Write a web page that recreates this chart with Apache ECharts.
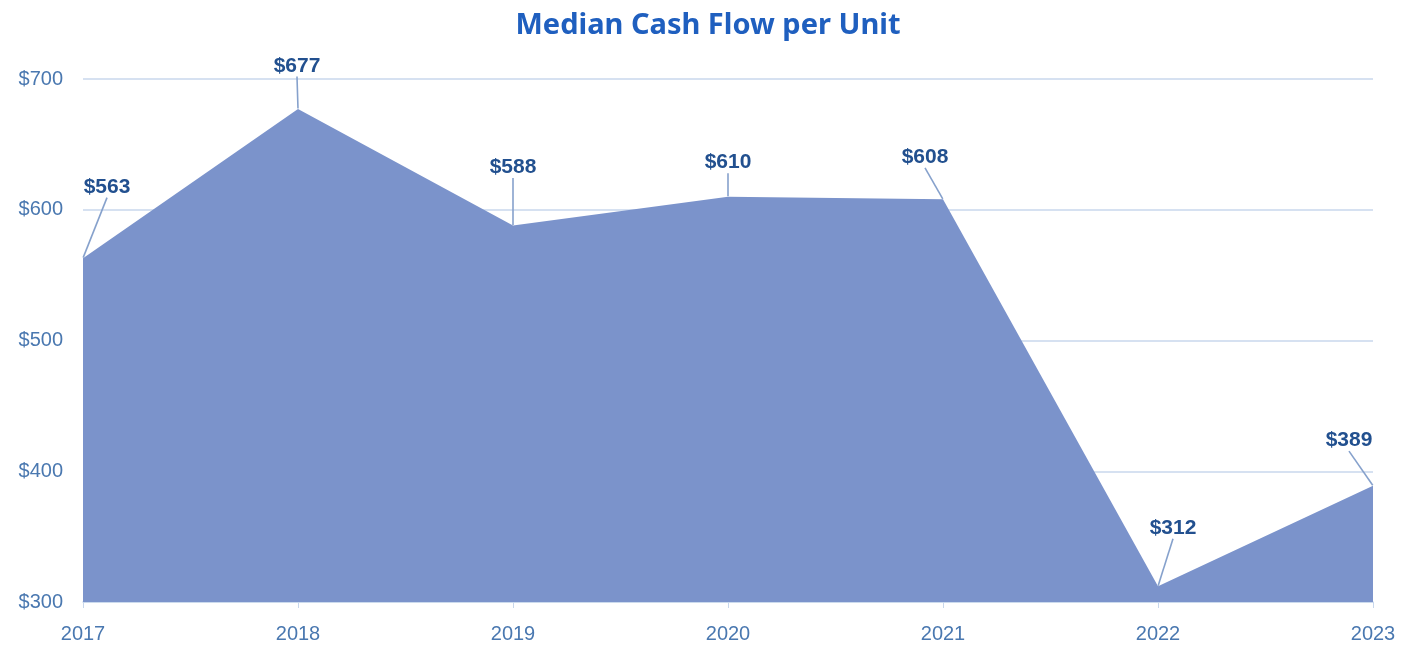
<!DOCTYPE html>
<html><head><meta charset="utf-8">
<script src="https://cdn.jsdelivr.net/npm/echarts@6/dist/echarts.min.js"></script>
<style>html,body{margin:0;padding:0;background:#fff}#c{width:1416px;height:651px}</style>
</head><body><div id="c"></div>
<script>
var years = ['2017','2018','2019','2020','2021','2022','2023'];
var cashFlow = [563, 677, 588, 610, 608, 312, 389];
var yTicks = [300, 400, 500, 600, 700];

var labelOffsets = [[24,-54],[-1,-26],[0,-41],[0,-17],[-18,-25],[15,-41],[-24,-28]];

var chart = echarts.init(document.getElementById('c'));
chart.setOption({
  animation: false,
  backgroundColor: '#ffffff',
  title: {
    text: 'Median Cash Flow per Unit',
    left: 'center', top: 6,
    textStyle: { fontFamily: 'Noto Sans', fontWeight: 'bold', fontSize: 29, color: '#1f5fbf' }
  },
  grid: { left: 83, right: 43, top: 79, bottom: 49 },
  xAxis: {
    type: 'category', data: years, boundaryGap: false,
    axisLine: { lineStyle: { color: '#c8d7ec', width: 1.5 } },
    axisTick: { show: true, length: 6, lineStyle: { color: '#c8d7ec' } },
    axisLabel: { color: '#4a78b0', fontFamily: 'Liberation Sans', fontSize: 20, margin: 22 }
  },
  yAxis: {
    type: 'value', min: yTicks[0], max: yTicks[yTicks.length-1], interval: 100,
    axisLine: { show: false }, axisTick: { show: false },
    splitLine: { lineStyle: { color: '#c8d7ec', width: 1.5 } },
    axisLabel: { color: '#4a78b0', fontFamily: 'Liberation Sans', fontSize: 20, margin: 20,
      formatter: function(v){ return '$' + v; } }
  },
  series: [{
    type: 'line',
    data: cashFlow,
    symbol: 'circle',
    symbolSize: 1,
    showSymbol: true,
    itemStyle: { color: 'rgba(123,147,203,0)', borderWidth: 0 },
    lineStyle: { width: 0 },
    areaStyle: { color: '#7b93cb', opacity: 1 },
    label: {
      show: true, position: 'top', distance: 0,
      padding: [6, 4, 6, 4],
      formatter: function(p){ return '$' + p.value; },
      fontFamily: 'Liberation Sans', fontWeight: 'bold', fontSize: 21, color: '#22508f'
    },
    labelLine: { show: true, lineStyle: { color: '#86a1cc', width: 1.6 } },
    labelLayout: function(p){
      var o = labelOffsets[p.dataIndex];
      return { dx: o[0], dy: o[1] };
    }
  }]
});
</script></body></html>
